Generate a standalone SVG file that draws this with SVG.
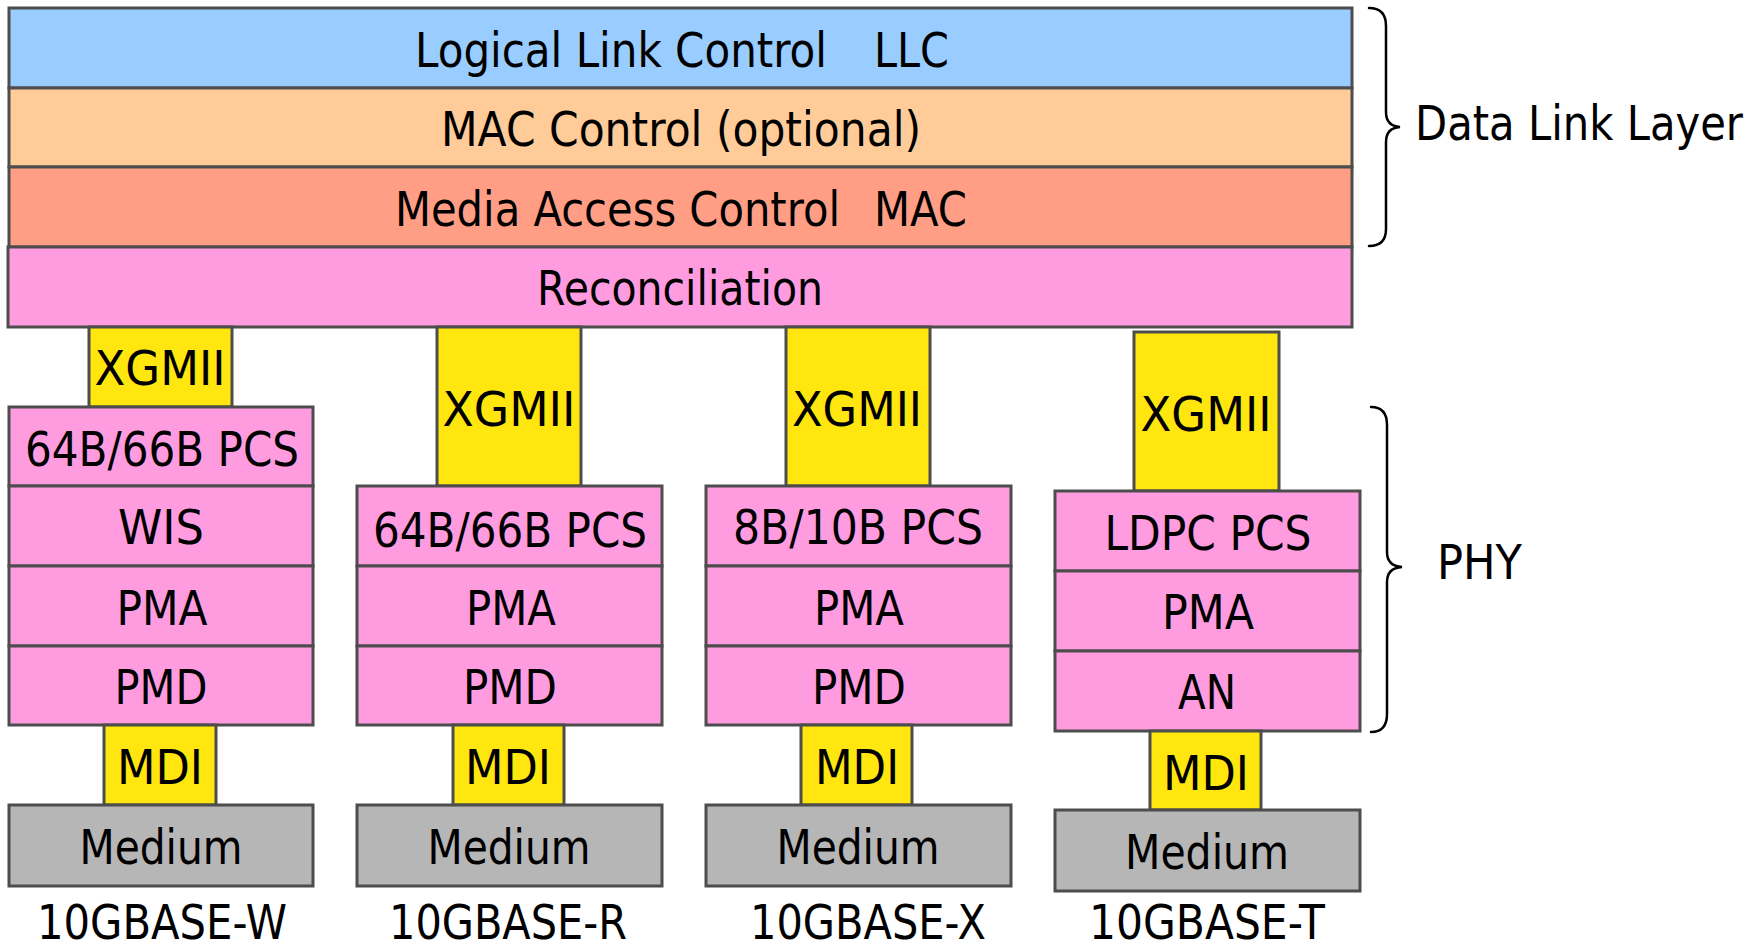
<svg xmlns="http://www.w3.org/2000/svg" width="1761" height="941" viewBox="0 0 1761 941">
  <style>
    .box { stroke: #4d4d4d; stroke-width: 3; }
    .llc { fill: #99ccff; }
    .macc { fill: #ffcc99; }
    .mac { fill: #ff9e85; }
    .pink { fill: #ff9ce0; }
    .yel { fill: #ffe60f; }
    .gray { fill: #b6b6b6; }
    text { font-family: "DejaVu Sans", "Liberation Sans", sans-serif; font-size: 48px; fill: #000; }
    .c { text-anchor: middle; }
    .brace { fill: none; stroke: #000; stroke-width: 2.5; stroke-linecap: round; }
  </style>

  <!-- shared upper layers -->
  <g id="llc">
    <rect class="box llc" x="9" y="8" width="1343" height="80"/>
    <text y="67"><tspan x="415" textLength="412" lengthAdjust="spacingAndGlyphs">Logical Link Control</tspan><tspan x="874" textLength="75" lengthAdjust="spacingAndGlyphs">LLC</tspan></text>
  </g>
  <g id="mac-control">
    <rect class="box macc" x="9" y="88" width="1343" height="79"/>
    <text x="441" y="146" textLength="480" lengthAdjust="spacingAndGlyphs">MAC Control (optional)</text>
  </g>
  <g id="mac">
    <rect class="box mac" x="9" y="167" width="1343" height="80"/>
    <text y="226"><tspan x="395" textLength="445" lengthAdjust="spacingAndGlyphs">Media Access Control</tspan><tspan x="874" textLength="93" lengthAdjust="spacingAndGlyphs">MAC</tspan></text>
  </g>
  <g id="reconciliation">
    <rect class="box pink" x="8" y="247" width="1344" height="80"/>
    <text x="537" y="305" textLength="286" lengthAdjust="spacingAndGlyphs">Reconciliation</text>
  </g>

  <!-- 10GBASE-W -->
  <g id="w-xgmii">
    <rect class="box yel" x="89" y="327" width="143" height="80"/>
    <text class="c" x="160" y="385" textLength="131" lengthAdjust="spacingAndGlyphs">XGMII</text>
  </g>
  <g id="w-pcs">
    <rect class="box pink" x="9" y="407" width="304" height="79"/>
    <text class="c" x="162" y="466" textLength="274" lengthAdjust="spacingAndGlyphs">64B/66B PCS</text>
  </g>
  <g id="w-wis">
    <rect class="box pink" x="9" y="486" width="304" height="80"/>
    <text class="c" x="161" y="544" textLength="86" lengthAdjust="spacingAndGlyphs">WIS</text>
  </g>
  <g id="w-pma">
    <rect class="box pink" x="9" y="566" width="304" height="80"/>
    <text class="c" x="162" y="625" textLength="91" lengthAdjust="spacingAndGlyphs">PMA</text>
  </g>
  <g id="w-pmd">
    <rect class="box pink" x="9" y="646" width="304" height="79"/>
    <text class="c" x="161" y="704" textLength="93" lengthAdjust="spacingAndGlyphs">PMD</text>
  </g>
  <g id="w-mdi">
    <rect class="box yel" x="104" y="725" width="112" height="80"/>
    <text class="c" x="160" y="784" textLength="86" lengthAdjust="spacingAndGlyphs">MDI</text>
  </g>
  <g id="w-medium">
    <rect class="box gray" x="9" y="805" width="304" height="81"/>
    <text class="c" x="161" y="864" textLength="163" lengthAdjust="spacingAndGlyphs">Medium</text>
  </g>
  <g id="w-label">
    <text class="c" x="162" y="939" textLength="250" lengthAdjust="spacingAndGlyphs">10GBASE-W</text>
  </g>

  <!-- 10GBASE-R -->
  <g id="r-xgmii">
    <rect class="box yel" x="437" y="327" width="144" height="159"/>
    <text class="c" x="509" y="426" textLength="133" lengthAdjust="spacingAndGlyphs">XGMII</text>
  </g>
  <g id="r-pcs">
    <rect class="box pink" x="357" y="486" width="305" height="80"/>
    <text class="c" x="510" y="547" textLength="274" lengthAdjust="spacingAndGlyphs">64B/66B PCS</text>
  </g>
  <g id="r-pma">
    <rect class="box pink" x="357" y="566" width="305" height="80"/>
    <text class="c" x="511" y="625" textLength="90" lengthAdjust="spacingAndGlyphs">PMA</text>
  </g>
  <g id="r-pmd">
    <rect class="box pink" x="357" y="646" width="305" height="79"/>
    <text class="c" x="510" y="704" textLength="94" lengthAdjust="spacingAndGlyphs">PMD</text>
  </g>
  <g id="r-mdi">
    <rect class="box yel" x="453" y="725" width="111" height="80"/>
    <text class="c" x="508" y="784" textLength="86" lengthAdjust="spacingAndGlyphs">MDI</text>
  </g>
  <g id="r-medium">
    <rect class="box gray" x="357" y="805" width="305" height="81"/>
    <text class="c" x="509" y="864" textLength="163" lengthAdjust="spacingAndGlyphs">Medium</text>
  </g>
  <g id="r-label">
    <text class="c" x="508" y="939" textLength="238" lengthAdjust="spacingAndGlyphs">10GBASE-R</text>
  </g>

  <!-- 10GBASE-X -->
  <g id="x-xgmii">
    <rect class="box yel" x="786" y="327" width="144" height="159"/>
    <text class="c" x="857" y="426" textLength="130" lengthAdjust="spacingAndGlyphs">XGMII</text>
  </g>
  <g id="x-pcs">
    <rect class="box pink" x="706" y="486" width="305" height="80"/>
    <text class="c" x="858" y="544" textLength="250" lengthAdjust="spacingAndGlyphs">8B/10B PCS</text>
  </g>
  <g id="x-pma">
    <rect class="box pink" x="706" y="566" width="305" height="80"/>
    <text class="c" x="859" y="625" textLength="90" lengthAdjust="spacingAndGlyphs">PMA</text>
  </g>
  <g id="x-pmd">
    <rect class="box pink" x="706" y="646" width="305" height="79"/>
    <text class="c" x="859" y="704" textLength="94" lengthAdjust="spacingAndGlyphs">PMD</text>
  </g>
  <g id="x-mdi">
    <rect class="box yel" x="801" y="725" width="111" height="80"/>
    <text class="c" x="857" y="784" textLength="84" lengthAdjust="spacingAndGlyphs">MDI</text>
  </g>
  <g id="x-medium">
    <rect class="box gray" x="706" y="805" width="305" height="81"/>
    <text class="c" x="858" y="864" textLength="163" lengthAdjust="spacingAndGlyphs">Medium</text>
  </g>
  <g id="x-label">
    <text class="c" x="868" y="939" textLength="236" lengthAdjust="spacingAndGlyphs">10GBASE-X</text>
  </g>

  <!-- 10GBASE-T -->
  <g id="t-xgmii">
    <rect class="box yel" x="1134" y="332" width="145" height="159"/>
    <text class="c" x="1206" y="431" textLength="131" lengthAdjust="spacingAndGlyphs">XGMII</text>
  </g>
  <g id="t-pcs">
    <rect class="box pink" x="1055" y="491" width="305" height="80"/>
    <text class="c" x="1208" y="550" textLength="207" lengthAdjust="spacingAndGlyphs">LDPC PCS</text>
  </g>
  <g id="t-pma">
    <rect class="box pink" x="1055" y="571" width="305" height="80"/>
    <text class="c" x="1208" y="629" textLength="92" lengthAdjust="spacingAndGlyphs">PMA</text>
  </g>
  <g id="t-an">
    <rect class="box pink" x="1055" y="651" width="305" height="80"/>
    <text class="c" x="1207" y="709" textLength="58" lengthAdjust="spacingAndGlyphs">AN</text>
  </g>
  <g id="t-mdi">
    <rect class="box yel" x="1150" y="731" width="111" height="79"/>
    <text class="c" x="1206" y="790" textLength="86" lengthAdjust="spacingAndGlyphs">MDI</text>
  </g>
  <g id="t-medium">
    <rect class="box gray" x="1055" y="810" width="305" height="81"/>
    <text class="c" x="1207" y="869" textLength="164" lengthAdjust="spacingAndGlyphs">Medium</text>
  </g>
  <g id="t-label">
    <text class="c" x="1207" y="939" textLength="236" lengthAdjust="spacingAndGlyphs">10GBASE-T</text>
  </g>

  <!-- grouping braces and their captions -->
  <g id="connectors">
    <path class="brace" d="M1369,8 Q1386,8 1386,26 L1386,112 Q1386,126 1400,127 Q1386,128 1386,142 L1386,229 Q1386,246 1369,246"/>
    <path class="brace" d="M1371,407 Q1387,407 1387,425 L1387,552 Q1387,566 1402,567 Q1387,568 1387,582 L1387,714 Q1387,732 1371,732"/>
  </g>
  <g id="data-link-layer">
    <text x="1415" y="140" textLength="328" lengthAdjust="spacingAndGlyphs">Data Link Layer</text>
  </g>
  <g id="phy">
    <text x="1437" y="579" textLength="85" lengthAdjust="spacingAndGlyphs">PHY</text>
  </g>
</svg>
